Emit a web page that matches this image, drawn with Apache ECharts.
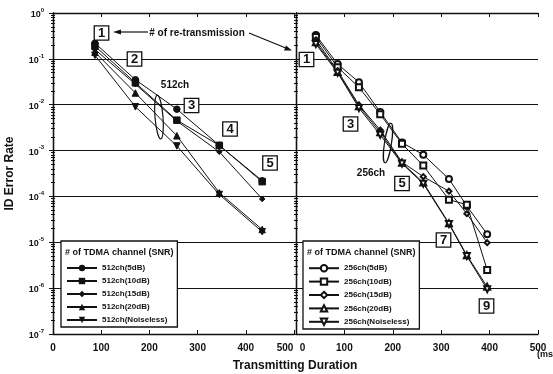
<!DOCTYPE html>
<html>
<head>
<meta charset="utf-8">
<script src="https://cdn.jsdelivr.net/npm/echarts@6/dist/echarts.min.js"></script>
<style>
html,body{margin:0;padding:0;background:#fff}
#chart{width:553px;height:374px}
</style>
</head>
<body>
<div id="chart"></div>
<script>
// transmitting duration (ms) of each re-transmission
var duration512 = [87, 171, 257, 345, 434];
var duration256 = [41, 86, 130, 174, 219, 263, 316, 353, 395];

// ID error rate, 512 TDMA channels
var err512_5dB = [0.22, 0.035, 0.0080, 0.0013, 0.00022];
var err512_10dB = [0.19, 0.030, 0.0046, 0.0013, 0.00021];
var err512_15dB = [0.16, 0.028, 0.0044, 0.00094, 0.000088];
var err512_20dB = [0.14, 0.018, 0.0021, 0.00012, 0.000019];
var err512_noiseless = [0.12, 0.0090, 0.00126, 0.00011, 0.000017];

// ID error rate, 256 TDMA channels
var err256_5dB = [0.33, 0.077, 0.031, 0.0069, 0.0015, 0.00081, 0.00024, 0.000062, 0.000015];
var err256_10dB = [0.30, 0.066, 0.024, 0.0062, 0.0014, 0.00047, 0.000085, 0.000066, 0.0000025];
var err256_15dB = [0.26, 0.055, 0.0099, 0.0028, 0.00056, 0.00027, 0.00013, 0.000042, 0.0000098];
var err256_20dB = [0.23, 0.052, 0.0093, 0.0025, 0.00054, 0.00020, 0.000026, 0.0000052, 0.00000107];
var err256_noiseless = [0.21, 0.050, 0.0085, 0.0022, 0.00052, 0.00019, 0.000025, 0.0000050, 0.00000095];

var snrNames = ['5dB', '10dB', '15dB', '20dB', 'Noiseless'];
var xTicks = [0, 100, 200, 300, 400, 500];

var FONT = '"Liberation Sans", Arial, sans-serif';
var INK = '#111';

function pairs(xs, ys) {
    return xs.map(function (x, i) { return [x, ys[i]]; });
}

var chartDom = document.getElementById('chart');
var myChart = echarts.init(chartDom, null, {renderer: 'canvas'});

var symbols512 = ['circle', 'rect', 'diamond', 'triangle', 'triangle'];
var symbols256 = ['emptyCircle', 'emptyRect', 'emptyDiamond', 'emptyTriangle', 'emptyTriangle'];
var symbolSizes = [7, 7, 6, 7, 7];
var symbolRot = [0, 0, 0, 0, 180];

var data512 = [err512_5dB, err512_10dB, err512_15dB, err512_20dB, err512_noiseless];
var data256 = [err256_5dB, err256_10dB, err256_15dB, err256_20dB, err256_noiseless];

var series = [];
data512.forEach(function (ys, i) {
    series.push({
        name: '512ch(' + snrNames[i] + ')',
        type: 'line',
        xAxisIndex: 0,
        yAxisIndex: 0,
        data: pairs(duration512, ys),
        symbol: symbols512[i],
        symbolSize: symbolSizes[i] - 0.5,
        symbolRotate: symbolRot[i],
        lineStyle: {color: INK, width: 1},
        itemStyle: {color: INK, borderColor: INK},
        animation: false
    });
});
data256.forEach(function (ys, i) {
    series.push({
        name: '256ch(' + snrNames[i] + ')',
        type: 'line',
        xAxisIndex: 2,
        yAxisIndex: 2,
        data: pairs(duration256, ys),
        symbol: symbols256[i],
        symbolSize: symbolSizes[i] - 1,
        symbolRotate: symbolRot[i],
        lineStyle: {color: INK, width: 1},
        itemStyle: {color: INK, borderColor: INK, borderWidth: 1},
        animation: false
    });
});

function xAxisDef(grid, pos, showLabel, shiftFirst, shiftLast) {
    return {
        gridIndex: grid,
        type: 'value',
        position: pos,
        min: 0,
        max: 500,
        interval: 100,
        axisLine: {show: true, lineStyle: {color: INK, width: 1.3}},
        axisTick: {show: true, inside: true, length: 4, lineStyle: {color: INK}},
        splitLine: {show: false},
        axisLabel: {
            show: showLabel,
            margin: 9,
            fontFamily: FONT,
            fontWeight: 'bold',
            fontSize: 10,
            color: INK,
            formatter: function (v) {
                if (v === 0 && shiftFirst) return '{r|0}';
                if (v === 500 && shiftLast) return '{l|500}';
                return String(v);
            },
            rich: {
                r: {fontFamily: FONT, fontWeight: 'bold', fontSize: 10, color: INK, padding: [0, 0, 0, 13]},
                l: {fontFamily: FONT, fontWeight: 'bold', fontSize: 10, color: INK, padding: [0, 18, 0, 0]}
            }
        }
    };
}

function yAxisDef(grid, pos, showLabel, showSplit) {
    return {
        gridIndex: grid,
        type: 'log',
        logBase: 10,
        position: pos,
        min: 1e-7,
        max: 1,
        splitNumber: 7,
        name: showLabel ? 'ID Error Rate' : '',
        nameLocation: 'middle',
        nameGap: 37,
        nameRotate: 90,
        nameTextStyle: {fontFamily: FONT, fontWeight: 'bold', fontSize: 12, color: INK},
        axisLine: {show: true, lineStyle: {color: INK, width: 1.3}},
        axisTick: {show: true, inside: true, length: 4, lineStyle: {color: INK}},
        minorTick: {show: true, splitNumber: 9, length: 2, lineStyle: {color: INK}},
        splitLine: {show: showSplit, lineStyle: {color: INK, width: 1}},
        axisLabel: {
            show: showLabel,
            margin: 9,
            formatter: function (v) {
                var e = Math.round(Math.log(v) / Math.LN10);
                return '{b|10}{s|' + e + '}';
            },
            rich: {
                b: {fontFamily: FONT, fontWeight: 'bold', fontSize: 9, color: INK, lineHeight: 12, verticalAlign: 'bottom'},
                s: {fontFamily: FONT, fontWeight: 'bold', fontSize: 6, color: INK, lineHeight: 6, verticalAlign: 'top'}
            }
        }
    };
}

var legendText = {fontFamily: FONT, fontWeight: 'bold', fontSize: 8, color: INK};

function boxLabel(txt, cx, cy) {
    return {
        type: 'text',
        x: cx,
        y: cy,
        z: 100,
        style: {
            text: txt,
            fontFamily: FONT,
            fontWeight: 'bold',
            fontSize: 13,
            fill: INK,
            align: 'center',
            verticalAlign: 'middle',
            backgroundColor: '#fff',
            borderColor: INK,
            borderWidth: 1.3,
            padding: [0, 3, 0, 3]
        }
    };
}

function plainText(txt, x, y, size, align) {
    return {
        type: 'text',
        x: x,
        y: y,
        z: 100,
        style: {
            text: txt,
            fontFamily: FONT,
            fontWeight: 'bold',
            fontSize: size,
            fill: INK,
            align: align || 'center',
            verticalAlign: 'middle'
        }
    };
}

function legendDef(names, left) {
    return {
        data: names,
        orient: 'vertical',
        left: left,
        top: 241,
        itemWidth: 30,
        itemHeight: 8,
        itemGap: 5,
        padding: [23, 10, 3, 5],
        backgroundColor: '#fff',
        borderColor: INK,
        borderWidth: 1.3,
        textStyle: legendText,
        z: 50
    };
}

var option = {
    backgroundColor: '#fff',
    animation: false,
    grid: [
        {left: 53, top: 13, width: 241, height: 321},
        {left: 296, top: 13, width: 242, height: 321}
    ],
    xAxis: [
        xAxisDef(0, 'bottom', true, false, true),
        xAxisDef(0, 'top', false, false, false),
        xAxisDef(1, 'bottom', true, true, false),
        xAxisDef(1, 'top', false, false, false)
    ],
    yAxis: [
        yAxisDef(0, 'left', true, true),
        yAxisDef(0, 'right', false, false),
        yAxisDef(1, 'left', false, true),
        yAxisDef(1, 'right', false, false)
    ],
    legend: [
        legendDef(series.slice(0, 5).map(function (s) { return s.name; }), 61),
        legendDef(series.slice(5).map(function (s) { return s.name; }), 303)
    ],
    graphic: [
        plainText('# of TDMA channel (SNR)', 65, 253, 9, 'left'),
        plainText('# of TDMA channel (SNR)', 307, 253, 9, 'left'),
        plainText('Transmitting Duration', 295, 366, 12),
        plainText('(ms', 545, 355, 9),
        plainText('# of re-transmission', 197, 33, 10),
        plainText('512ch', 175, 85, 10),
        plainText('256ch', 371, 173, 10),
        // arrows from the re-transmission note
        {type: 'line', z: 90, shape: {x1: 148, y1: 32, x2: 118, y2: 32}, style: {stroke: INK, lineWidth: 1.2}},
        {type: 'polygon', z: 90, shape: {points: [[113, 32], [121, 29.5], [121, 34.5]]}, style: {fill: INK}},
        {type: 'line', z: 90, shape: {x1: 249, y1: 33, x2: 287, y2: 48.5}, style: {stroke: INK, lineWidth: 1.2}},
        {type: 'polygon', z: 90, shape: {points: [[292, 50.5], [284, 50.5], [286, 45.5]]}, style: {fill: INK}},
        // loops grouping the channel curves
        {type: 'ellipse', z: 90, rotation: 0.08, x: 159, y: 117, shape: {cx: 0, cy: 0, rx: 4, ry: 22}, style: {stroke: INK, fill: null, lineWidth: 1.2}},
        {type: 'ellipse', z: 90, rotation: -0.15, x: 388, y: 143, shape: {cx: 0, cy: 0, rx: 3.5, ry: 20}, style: {stroke: INK, fill: null, lineWidth: 1.2}},
        boxLabel('1', 101.5, 33),
        boxLabel('2', 134.5, 59),
        boxLabel('3', 191.5, 105.5),
        boxLabel('4', 230, 129),
        boxLabel('5', 270, 163),
        boxLabel('1', 306.5, 59.5),
        boxLabel('3', 350.5, 124),
        boxLabel('5', 402, 183.5),
        boxLabel('7', 443.5, 240),
        boxLabel('9', 486.5, 306)
    ],
    series: series
};

option && myChart.setOption(option);
</script>
</body>
</html>
